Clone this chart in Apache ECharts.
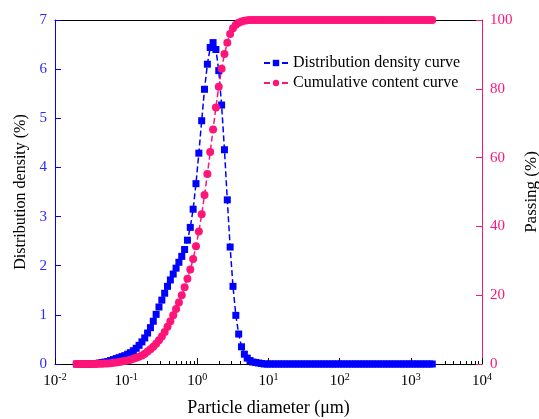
<!DOCTYPE html>
<html>
<head>
<meta charset="utf-8">
<script src="https://cdn.jsdelivr.net/npm/echarts@6/dist/echarts.min.js"></script>
<style>
html,body{margin:0;padding:0;background:#fff;}
#container{width:539px;height:419px;}
</style>
</head>
<body>
<div id="container"></div>
<script>
// particle size classes (um)
var sizes = [
  0.0200,0.02193,0.02405,0.02637,0.02891,0.03170,0.03476,0.03811,0.04179,0.04582,0.05024,0.05508,0.06040,0.06623,0.07262,0.07962,0.08730,0.09573,0.1050,0.1151,0.1262,0.1384,0.1517,0.1664,0.1824,
  0.2000,0.2193,0.2405,0.2637,0.2891,0.3170,0.3476,0.3811,0.4179,0.4582,0.5024,0.5508,0.6040,0.6623,0.7262,0.7962,0.8730,0.9573,1.050,1.151,1.262,1.384,1.517,1.664,1.824,
  2.000,2.193,2.405,2.637,2.891,3.170,3.476,3.811,4.179,4.582,5.024,5.508,6.040,6.623,7.262,7.962,8.730,9.573,10.50,11.51,12.62,13.84,15.17,16.64,18.24,
  20.00,21.93,24.05,26.37,28.91,31.70,34.76,38.11,41.79,45.82,50.24,55.08,60.40,66.23,72.62,79.62,87.30,95.73,105.0,115.1,126.2,138.4,151.7,166.4,182.4,
  200.0,219.3,240.5,263.7,289.1,317.0,347.6,381.1,417.9,458.2,502.4,550.8,604.0,662.3,726.2,796.2,873.0,957.3,1050,1151,1262,1384,1517,1664,1824,
  2000
];
// distribution density (%)
var density = [
  0,0,0,0,0,0,0.01,0.01,0.02,0.03,
  0.04,0.05,0.07,0.09,0.11,0.13,0.15,0.17,0.20,0.23,
  0.27,0.32,0.38,0.45,0.53,0.63,0.74,0.87,1.01,1.16,
  1.30,1.44,1.58,1.71,1.83,1.95,2.07,2.19,2.33,2.52,
  2.78,3.15,3.67,4.29,4.95,5.59,6.10,6.44,6.54,6.40,
  5.97,5.27,4.36,3.34,2.38,1.58,0.99,0.61,0.35,0.20,
  0.12,0.07,0.04,0.03,0.02,0.01,0,0,0,0,
  0,0,0,0,0,0,0,0,0,0,
  0,0,0,0,0,0,0,0,0,0,
  0,0,0,0,0,0,0,0,0,0,
  0,0,0,0,0,0,0,0,0,0,
  0,0,0,0,0,0,0,0,0,0,
  0,0,0,0,0,0
];
// cumulative content / passing (%)
var passing = [
  0,0,0,0,0,0.01,0.02,0.03,0.05,0.08,
  0.12,0.17,0.24,0.33,0.44,0.57,0.72,0.89,1.05,1.25,
  1.5,1.8,2.1,2.5,3.0,3.6,4.3,5.0,5.9,6.9,
  8.0,9.3,10.8,12.4,14.2,16.0,17.9,20.0,22.3,24.8,
  27.5,30.5,34.2,38.5,43.5,49.1,55.2,61.6,68.2,74.6,
  80.6,85.8,90.1,93.4,95.9,97.6,98.6,99.2,99.6,99.8,
  99.9,100,100,100,100,100,100,100,100,100,
  100,100,100,100,100,100,100,100,100,100,
  100,100,100,100,100,100,100,100,100,100,
  100,100,100,100,100,100,100,100,100,100,
  100,100,100,100,100,100,100,100,100,100,
  100,100,100,100,100,100,100,100,100,100,
  100,100,100,100,100,100
];
var majorTicks = [0.01, 0.1, 1, 10, 100, 1000, 10000];
var minorTicks = [
  0.02,0.03,0.04,0.05,0.06,0.07,0.08,0.09,
  0.2,0.3,0.4,0.5,0.6,0.7,0.8,0.9,
  2,3,4,5,6,7,8,9,
  20,30,40,50,60,70,80,90,
  200,300,400,500,600,700,800,900,
  2000,3000,4000,5000,6000,7000,8000,9000
];

var BLUE = '#0000ff';
var PINK = '#ff1478';
var FONT = 'Liberation Serif';

var dom = document.getElementById('container');
var myChart = echarts.init(dom, null, {renderer: 'canvas'});

var densData = sizes.map(function (s, i) { return [s, density[i]]; });
var passData = sizes.map(function (s, i) { return [s, passing[i]]; });

var option = {
  animation: false,
  backgroundColor: '#fff',
  textStyle: {fontFamily: FONT},
  grid: {left: 55, right: 57, top: 20, bottom: 55, containLabel: false, outerBoundsMode: 'none'},
  legend: {
    orient: 'vertical',
    left: 258,
    top: 50,
    itemWidth: 24,
    itemHeight: 8,
    itemGap: 4,
    textStyle: {fontFamily: FONT, fontSize: 16, color: '#000'},
    data: ['Distribution density curve', 'Cumulative content curve']
  },
  xAxis: [{
    type: 'log',
    logBase: 10,
    min: 0.01,
    max: 10000,
    position: 'bottom',
    name: 'Particle diameter (\u03bcm)',
    nameLocation: 'middle',
    nameGap: 35,
    nameTextStyle: {fontFamily: FONT, fontSize: 18, color: '#000'},
    axisLine: {lineStyle: {color: '#000', width: 1}},
    axisTick: {inside: true, length: 6, customValues: majorTicks, lineStyle: {color: '#000'}},
    axisLabel: {
      customValues: majorTicks,
      margin: 8,
      formatter: function (v) {
        var e = Math.round(Math.log(v) / Math.LN10);
        return '{b|10}{s|' + e + '}';
      },
      rich: {
        b: {fontFamily: FONT, fontSize: 15, color: '#000'},
        s: {fontFamily: FONT, fontSize: 10, color: '#000', padding: [0, 0, 8, 0]}
      }
    },
    splitLine: {show: false}
  }, {
    type: 'log',
    logBase: 10,
    min: 0.01,
    max: 10000,
    position: 'bottom',
    axisLine: {show: false},
    axisTick: {inside: true, length: 3, customValues: minorTicks, lineStyle: {color: '#000'}},
    axisLabel: {show: false},
    splitLine: {show: false}
  }, {
    type: 'log',
    logBase: 10,
    min: 0.01,
    max: 10000,
    position: 'top',
    axisLine: {lineStyle: {color: '#000', width: 1}},
    axisTick: {show: false},
    axisLabel: {show: false},
    splitLine: {show: false}
  }],
  yAxis: [{
    type: 'value',
    min: 0,
    max: 7,
    interval: 1,
    position: 'left',
    name: 'Distribution density (%)',
    nameLocation: 'middle',
    nameGap: 26,
    nameTextStyle: {fontFamily: FONT, fontSize: 16, color: '#000'},
    axisLine: {show: true, lineStyle: {color: BLUE, width: 1}},
    axisTick: {show: true, inside: true, length: 6, lineStyle: {color: BLUE}},
    axisLabel: {color: '#2a2aff', fontFamily: FONT, fontSize: 15, margin: 8},
    splitLine: {show: false}
  }, {
    type: 'value',
    min: 0,
    max: 100,
    interval: 20,
    position: 'right',
    name: 'Passing (%)',
    nameLocation: 'middle',
    nameGap: 36,
    nameRotate: 90,
    nameTextStyle: {fontFamily: FONT, fontSize: 17, color: '#000'},
    axisLine: {show: true, lineStyle: {color: PINK, width: 1}},
    axisTick: {show: true, inside: true, length: 6, lineStyle: {color: PINK}},
    axisLabel: {color: PINK, fontFamily: FONT, fontSize: 15, margin: 8},
    splitLine: {show: false}
  }],
  series: [{
    name: 'Distribution density curve',
    type: 'line',
    xAxisIndex: 0,
    yAxisIndex: 0,
    data: densData,
    symbol: 'rect',
    symbolSize: 7,
    itemStyle: {color: BLUE},
    lineStyle: {color: BLUE, width: 1.5, type: [6, 3]}
  }, {
    name: 'Cumulative content curve',
    type: 'line',
    xAxisIndex: 0,
    yAxisIndex: 1,
    data: passData,
    symbol: 'circle',
    symbolSize: 8,
    itemStyle: {color: PINK},
    lineStyle: {color: PINK, width: 1.5, type: [6, 3]}
  }]
};

myChart.setOption(option);
</script>
</body>
</html>
